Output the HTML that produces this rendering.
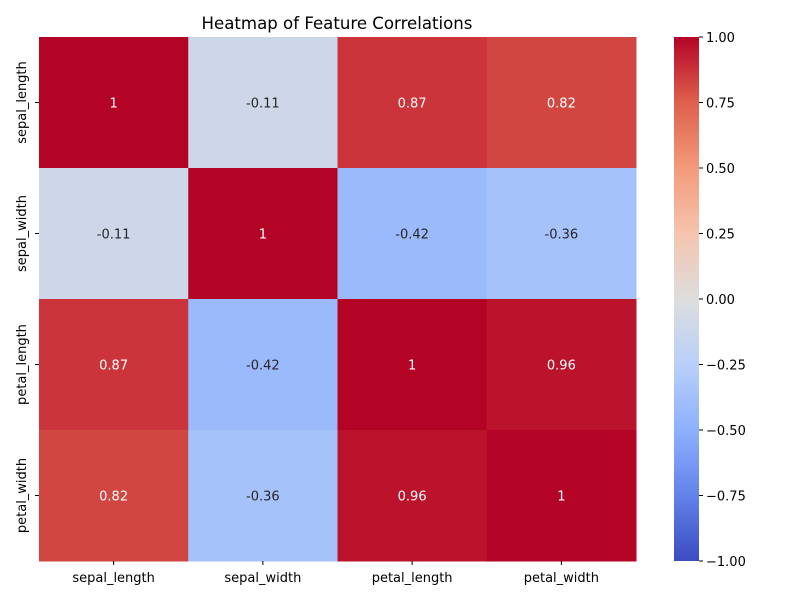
<!DOCTYPE html>
<html><head><meta charset="utf-8"><style>
body{margin:0;background:#fff;}
svg text{font-family:"DejaVu Sans","Liberation Sans",sans-serif;}
</style></head><body>
<svg id="c" width="800" height="600">
<text x="337" y="29" font-size="16.6" text-anchor="middle">Heatmap of Feature Correlations</text>
<defs><linearGradient id="cg" x1="0" y1="1" x2="0" y2="0"></linearGradient></defs>
<g id="cells"></g><g id="axes"></g>
<rect x="674" y="37" width="25" height="524" fill="url(#cg)"/>
<g id="cbar"></g>
</svg>
<script>
const categories=["sepal_length","sepal_width","petal_length","petal_width"];
const row0=[1,-0.11,0.87,0.82];
const row1=[-0.11,1,-0.42,-0.36];
const row2=[0.87,-0.42,1,0.96];
const row3=[0.82,-0.36,0.96,1];
const values=[row0,row1,row2,row3];
const cbarTicks=[-1,-0.75,-0.5,-0.25,0,0.25,0.5,0.75,1];
const vmin=-1,vmax=1;
const NS="http://www.w3.org/2000/svg";
const X0=39,X1=636,Y0=37,Y1=561;
const cw=(X1-X0)/categories.length,ch=(Y1-Y0)/categories.length;
const xs=i=>X0+i*cw, ys=i=>Y0+i*ch;
const cy=v=>Y1-(v-vmin)/(vmax-vmin)*(Y1-Y0);
const anchors=[[59,76,192],[98,130,234],[141,176,254],[184,208,249],[221,221,221],[245,196,173],[244,154,123],[222,96,77],[180,4,38]];
function cmap(v){let t=(v-vmin)/(vmax-vmin)*8;let i=Math.min(7,Math.floor(t));let f=t-i;const a=anchors[i],b=anchors[i+1];
return a.map((c,k)=>Math.round(c+(b[k]-c)*f));}
function mk(tag,attrs,parent){const e=document.createElementNS(NS,tag);for(const k in attrs)e.setAttribute(k,attrs[k]);parent.appendChild(e);return e;}
const cells=document.getElementById('cells'),axes=document.getElementById('axes'),cb=document.getElementById('cbar');
values.forEach((row,r)=>row.forEach((v,c)=>{
 const col=cmap(v);
 const rc=mk('rect',{x:xs(c),y:ys(r),width:cw+0.5,height:ch+0.5,fill:`rgb(${col})`},cells);
 
 
 const lum=(0.2126*col[0]+0.7152*col[1]+0.0722*col[2])/255;
 const t=mk('text',{x:xs(c)+cw/2,y:ys(r)+ch/2+5,'font-size':13,'text-anchor':'middle',fill:lum>0.408?'#262626':'#fff'},cells);
 t.textContent=String(v);
 
 
}));
categories.forEach((n,i)=>{
 mk('line',{x1:xs(i)+cw/2,x2:xs(i)+cw/2,y1:Y1,y2:Y1+4,stroke:'#000'},axes);
 const t=mk('text',{x:xs(i)+cw/2,y:Y1+21,'font-size':13,'text-anchor':'middle'},axes);t.textContent=n;
 
 
 mk('line',{x1:X0-4,x2:X0,y1:ys(i)+ch/2,y2:ys(i)+ch/2,stroke:'#000'},axes);
 const y=mk('text',{x:0,y:0,'font-size':13,'text-anchor':'middle',transform:`translate(26,${ys(i)+ch/2}) rotate(-90)`},axes);y.textContent=n;
 
 
});
const g=document.getElementById('cg');
for(let k=0;k<=8;k++){mk('stop',{offset:(k/8*100)+'%','stop-color':`rgb(${anchors[k]})`},g);}
cbarTicks.forEach(v=>{
 mk('line',{x1:699,x2:703,y1:cy(v),y2:cy(v),stroke:'#000'},cb);
 const t=mk('text',{x:706,y:cy(v)+5,'font-size':13},cb);t.textContent=(v<0?'\u2212':'')+Math.abs(v).toFixed(2);
 
 
});
</script>
</body></html>
